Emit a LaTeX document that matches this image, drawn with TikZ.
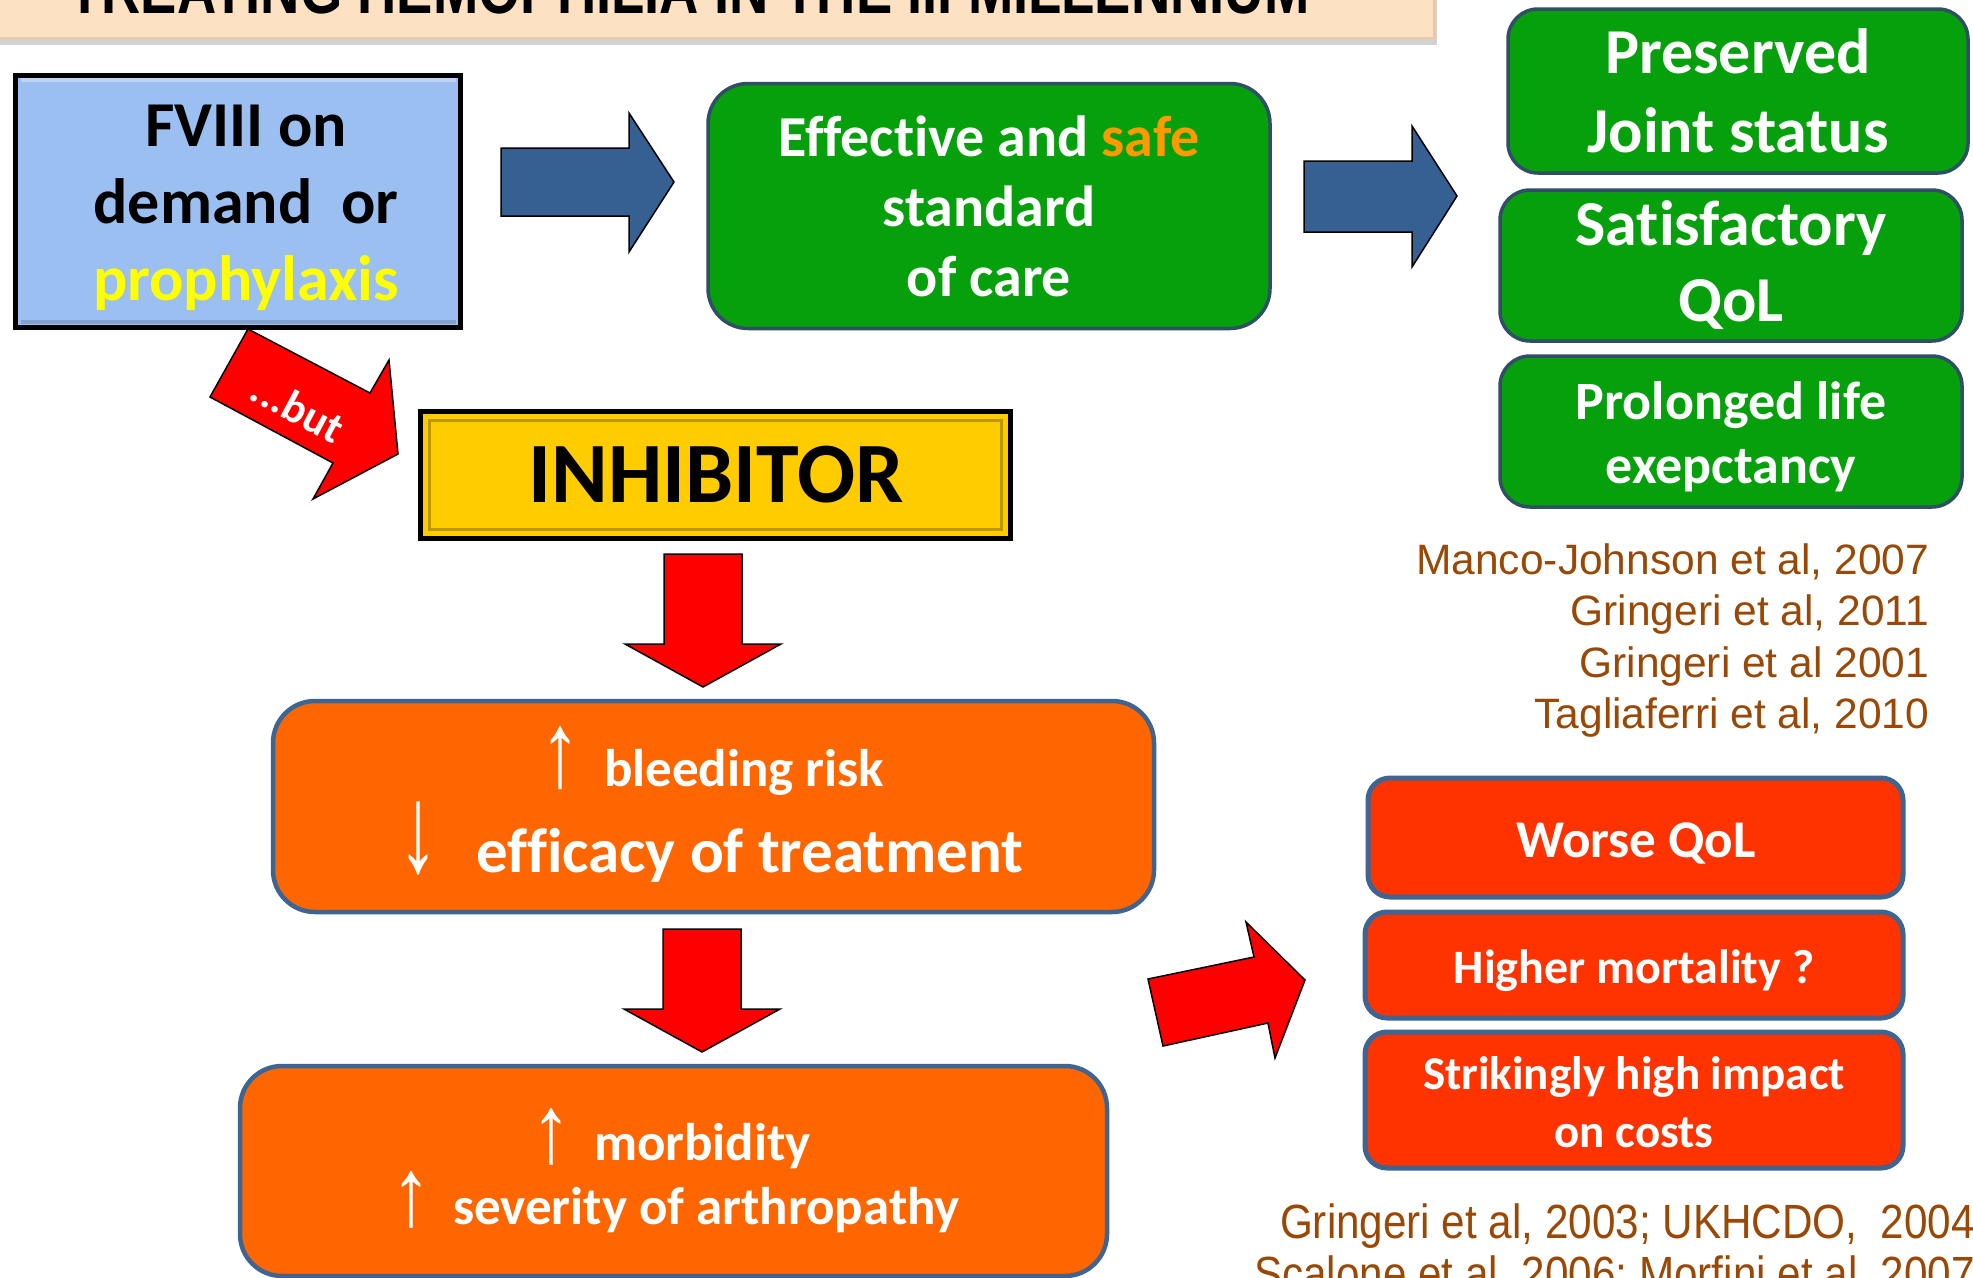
\documentclass[tikz,border=0pt]{standalone}
\usepackage{fontspec}
\setmainfont{Carlito}[Ligatures={NoCommon,NoRare}]
\newfontfamily\arial{Liberation Sans}
\usetikzlibrary{shadows}
\definecolor{boxblue}{RGB}{155,191,240}
\definecolor{arrowblue}{RGB}{55,96,146}
\definecolor{grn}{RGB}{6,160,12}
\definecolor{grnborder}{RGB}{47,79,100}
\definecolor{safeor}{RGB}{255,153,0}
\definecolor{gold}{RGB}{255,204,0}
\definecolor{golddark}{RGB}{190,150,0}
\definecolor{orng}{RGB}{255,102,0}
\definecolor{redorng}{RGB}{255,51,0}
\definecolor{slate}{RGB}{62,100,145}
\definecolor{brn}{RGB}{153,72,6}
\definecolor{peach}{RGB}{253,225,195}
\definecolor{peachline}{RGB}{235,200,160}
\definecolor{yel}{RGB}{255,255,0}
\begin{document}
\begin{tikzpicture}[x=1pt,y=-1pt,
  every node/.style={inner sep=0pt, outer sep=0pt},
  titlebox/.style={draw=peachline, line width=2pt, fill=peach, drop shadow={shadow xshift=3pt, shadow yshift=-7pt, opacity=0.35}},
  fvbox/.style={draw=black, line width=5pt, fill=boxblue},
  greenbox/.style={draw=grnborder, line width=3.5pt, fill=grn, align=center, text=white},
  inhbox/.style={draw=black, line width=5pt, fill=gold},
  orangebox/.style={draw=slate, line width=4.5pt, fill=orng, rounded corners=42pt},
  redbox/.style={draw=slate, line width=5pt, fill=redorng, rounded corners=22pt},
  bluearrow/.style={fill=arrowblue, draw=black, line width=1.5pt, line join=miter},
  redarrow/.style={fill=red, draw=black, line width=1.5pt, line join=miter},
  wtext/.style={text=white, font=\bfseries\fontsize{53}{53}\selectfont},
  symb/.style={text=white, font=\arial\fontsize{80}{80}\selectfont},
  refs/.style={text=brn, font=\arial\fontsize{42.5}{42.5}\selectfont},
  refs2/.style={text=brn, font=\arial\fontsize{48}{48}\selectfont}
]
\useasboundingbox (0,0) rectangle (1973,1277);
\fill[white] (0,0) rectangle (1973,1277);

% title
\node[titlebox, minimum width=1444pt, minimum height=50pt, anchor=south west] (titlebox) at (-10,38) {};
\node[anchor=base, font=\arial\bfseries\fontsize{68}{68}\selectfont] (title) at (689,13) {\scalebox{0.8}[1]{TREATING HEMOPHILIA IN THE III MILLENNIUM}};

% FVIII box
\node[fvbox, minimum width=445pt, minimum height=252pt] (fviii) at (238,201) {};
\draw[white, opacity=0.35, line width=4pt] ([xshift=5pt,yshift=-5pt]fviii.north west) -- ([xshift=-5pt,yshift=-5pt]fviii.north east);
\draw[black, opacity=0.15, line width=4pt] ([xshift=5pt,yshift=5pt]fviii.south west) -- ([xshift=-5pt,yshift=5pt]fviii.south east);
\node[align=center, font=\bfseries\fontsize{64}{77}\selectfont] (fviiitext) at (246,208) {FVIII on\\demand\ \ or\\\textcolor{yel}{prophylaxis}};

% blue arrows
\draw[bluearrow] (501,148) -- (629,148) -- (629,113) -- (674,182) -- (629,252) -- (629,216) -- (501,216) -- cycle;
\draw[bluearrow] (1304,161) -- (1412,161) -- (1412,126) -- (1457,196) -- (1412,267) -- (1412,232) -- (1304,232) -- cycle;

% green boxes
\node[greenbox, rounded corners=40pt, minimum width=562pt, minimum height=245pt, font=\bfseries\fontsize{58}{70}\selectfont] (care) at (989,206) {Effective and \textcolor{safeor}{safe}\\standard\\of care};
\node[greenbox, rounded corners=30pt, minimum width=460pt, minimum height=164pt, font=\bfseries\fontsize{64}{79}\selectfont] (joint) at (1738,91) {Preserved\\Joint status};
\node[greenbox, rounded corners=30pt, minimum width=462pt, minimum height=151pt, font=\bfseries\fontsize{64}{76}\selectfont] (qol) at (1731,265.5) {Satisfactory\\QoL};
\node[greenbox, rounded corners=30pt, minimum width=462pt, minimum height=151pt] (life) at (1731,431.5) {};
\node[align=center, text=white, font=\bfseries\fontsize{54}{64}\selectfont] (lifetext) at (1731,437) {Prolonged life\\exepctancy};

% references 1
\node[refs, anchor=base east] (r1a) at (1929,574) {Manco-Johnson et al, 2007};
\node[refs, anchor=base east] (r1b) at (1929,625) {Gringeri et al, 2011};
\node[refs, anchor=base east] (r1c) at (1929,677) {Gringeri et al 2001};
\node[refs, anchor=base east] (r1d) at (1929,728) {Tagliaferri et al, 2010};

% but arrow
\draw[redarrow] (248,329) -- (370,393) -- (389,360) -- (398,454) -- (313,499) -- (333,463) -- (210,397) -- cycle;
\node[text=white, font=\bfseries\fontsize{44}{44}\selectfont, rotate=-28] (but) at (298,408) {...but};

% INHIBITOR
\node[inhbox, minimum width=590pt, minimum height=127pt] (inh) at (715.5,475) {};
\draw[golddark, line width=3pt] ([xshift=9pt,yshift=-9pt]inh.north west) rectangle ([xshift=-9pt,yshift=9pt]inh.south east);
\node[font=\bfseries\fontsize{86}{86}\selectfont] (inhtext) at (716,475) {INHIBITOR};

% red down arrows
\draw[redarrow] (664,554) -- (742,554) -- (742,644) -- (781,644) -- (703,687) -- (625,644) -- (664,644) -- cycle;
\draw[redarrow] (663,929) -- (741,929) -- (741,1009) -- (780,1009) -- (702,1052) -- (624,1009) -- (663,1009) -- cycle;

% orange box 1
\node[orangebox, minimum width=881pt, minimum height=211pt] (risk) at (713.5,806.5) {};
\node[symb] (up1) at (560,758) {\scalebox{1}[1.33]{↑}};
\node[wtext, anchor=base west] (bleed) at (604,786) {bleeding risk};
\node[symb] (down1) at (418,838) {\scalebox{1}[1.55]{↓}};
\node[wtext, anchor=base west, font=\bfseries\fontsize{63}{63}\selectfont] (eff) at (476,872) {efficacy of treatment};

% orange box 2
\node[orangebox, minimum width=867pt, minimum height=210pt] (morb) at (673.5,1171) {};
\node[symb] (up2) at (551,1137) {\scalebox{1}[1.2]{↑}};
\node[wtext, anchor=base west] (morbt) at (594,1160) {morbidity};
\node[symb] (up3) at (411,1200) {\scalebox{1}[1.2]{↑}};
\node[wtext, anchor=base west] (sev) at (453,1224) {severity of arthropathy};

% red tilted arrow
\draw[redarrow] (1148,979) -- (1254,957) -- (1246,922) -- (1305,980) -- (1275,1058) -- (1268,1023) -- (1163,1046) -- cycle;

% red boxes
\node[redbox, minimum width=535pt, minimum height=119pt] (worse) at (1635.5,837.5) {};
\node[text=white, font=\bfseries\fontsize{53}{53}\selectfont] (worsetext) at (1636,843) {Worse QoL};
\node[redbox, minimum width=538pt, minimum height=106pt] (mort) at (1634,965) {};
\node[text=white, font=\bfseries\fontsize{48}{48}\selectfont] (morttext) at (1634,971) {Higher mortality ?};
\node[redbox, minimum width=538pt, minimum height=136pt] (costs) at (1634,1100) {};
\node[align=center, text=white, font=\bfseries\fontsize{47}{58}\selectfont] (coststext) at (1634,1102) {Strikingly high impact\\on costs};

% references 2
\node[refs2, anchor=base east] (r2a) at (1975,1238) {\scalebox{0.88}[1]{Gringeri et al, 2003; UKHCDO,\ \ 2004}};
\node[refs2, anchor=base east] (r2b) at (1975,1290) {\scalebox{0.88}[1]{Scalone et al, 2006; Morfini et al, 2007}};
\end{tikzpicture}
\end{document}
